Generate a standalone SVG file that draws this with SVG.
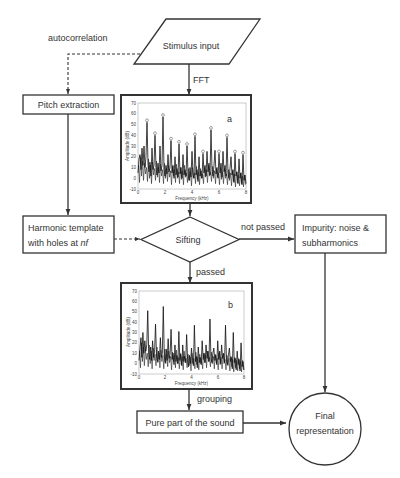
<svg xmlns="http://www.w3.org/2000/svg" width="400" height="478" viewBox="0 0 400 478">
<defs>
<style>
.box{fill:#fff;stroke:#333;stroke-width:1.3}
.plotbox{fill:#fff;stroke:#333;stroke-width:2}
.ln{fill:none;stroke:#333;stroke-width:1.3}
.dash{fill:none;stroke:#333;stroke-width:1.1;stroke-dasharray:3 2}
.t{font-family:"Liberation Sans",Arial,sans-serif;font-size:9px;fill:#333}
.tc{text-anchor:middle}
.ax{fill:#fff;stroke:#999;stroke-width:0.5}
.tk{font-family:"Liberation Sans",Arial,sans-serif;font-size:4.5px;fill:#444}
.sig{fill:none;stroke:#111;stroke-width:0.8;vector-effect:non-scaling-stroke}
.nz{fill:none;stroke:#222;stroke-width:0.6;vector-effect:non-scaling-stroke}
.pk{fill:none;stroke:#444;stroke-width:0.5}
</style>
<marker id="arr" viewBox="0 0 10 10" refX="10" refY="5" markerWidth="5" markerHeight="5" orient="auto">
<path d="M0,1 L10,5 L0,9 z" fill="#333"/>
</marker>
<polyline id="noise" class="nz" points="0.5,12 1.5,-4 2.5,20 3.5,2 4.5,16 5.5,-2 6.5,14 7.5,4 8.5,10 9.5,-3 10.5,18 11.5,0 12.5,12 13.5,-5 14.5,15 15.5,3 16.5,9 17.5,-2 18.5,16 19.5,1 20.5,10 21.5,-4 22.5,13 23.5,2 24.5,8 25.5,-5 26.5,14 27.5,0 28.5,9 29.5,-3 30.5,12 31.5,1 32.5,7 33.5,-6 34.5,11 35.5,2 36.5,8 37.5,-4 38.5,13 39.5,0 40.5,6 41.5,-5 42.5,10 43.5,-1 44.5,7 45.5,-6 46.5,12 47.5,1 48.5,5 49.5,-4 50.5,9 51.5,-2 52.5,6 53.5,-7 54.5,10 55.5,0 56.5,5 57.5,-5 58.5,11 59.5,-1 60.5,6 61.5,-6 62.5,9 63.5,0 64.5,4 65.5,-5 66.5,10 67.5,1 68.5,8 69.5,-4 70.5,12 71.5,2 72.5,6 73.5,-3 74.5,11 75.5,0 76.5,7 77.5,-5 78.5,9 79.5,1 80.5,5 81.5,-6 82.5,10 83.5,-1 84.5,6 85.5,-5 86.5,9 87.5,0 88.5,4 89.5,-6 90.5,8 91.5,-2 92.5,5 93.5,-7 94.5,7 95.5,-3 96.5,4 97.5,-8 98.5,6 99.5,-4 100.5,3 101.5,-7 102.5,5 103.5,-5 104.5,2 105.5,-8 106.5,3 107.5,-6"/>
</defs>
<rect width="400" height="478" fill="#fff"/>

<g id="connectors">
<path class="dash" d="M140,54 H68 V94" marker-end="url(#arr)"/>
<path class="ln" d="M189,64 V95" marker-end="url(#arr)"/>
<path class="ln" d="M68,114 V215" marker-end="url(#arr)"/>
<path class="ln" d="M190,203 V216" marker-end="url(#arr)"/>
<path class="dash" d="M114,239 H140" marker-end="url(#arr)"/>
<path class="ln" d="M239,239 H294" marker-end="url(#arr)"/>
<path class="ln" d="M190,262 V283" marker-end="url(#arr)"/>
<path class="ln" d="M325,253 V392" marker-end="url(#arr)"/>
<path class="ln" d="M189,389 V410" marker-end="url(#arr)"/>
<path class="ln" d="M243,423 H286" marker-end="url(#arr)"/>
<text class="t" x="48" y="41">autocorrelation</text>
<text class="t" x="193" y="83">FFT</text>
<text class="t" x="241" y="230">not passed</text>
<text class="t" x="196" y="275">passed</text>
<text class="t" x="197" y="402">grouping</text>
</g>

<g id="stimulus">
<polygon class="box" points="166,19 260,19 229,64 134,64"/>
<text class="t tc" x="191" y="49">Stimulus input</text>
</g>

<g id="pitch">
<rect class="box" x="23" y="95" width="91" height="19"/>
<text class="t tc" x="68.5" y="108">Pitch extraction</text>
</g>

<g id="harmonic">
<rect class="box" x="23" y="216" width="91" height="37"/>
<text class="t" x="28" y="231">Harmonic template</text>
<text class="t" x="28" y="246">with holes at <tspan font-style="italic">nf</tspan></text>
</g>

<g id="plotA">
<rect class="plotbox" x="121" y="95" width="130" height="108"/>
<rect class="ax" x="138" y="103" width="108" height="86"/>
<g class="tk" text-anchor="end">
<text x="136" y="104.5">70</text><text x="136" y="115.2">60</text><text x="136" y="126">50</text><text x="136" y="136.7">40</text><text x="136" y="147.5">30</text><text x="136" y="158.2">20</text><text x="136" y="169">10</text><text x="136" y="179.7">0</text><text x="136" y="190.5">-10</text>
</g>
<g class="tk" text-anchor="middle">
<text x="138" y="194">0</text><text x="165" y="194">2</text><text x="192" y="194">4</text><text x="219" y="194">6</text><text x="246" y="194">8</text>
<text x="192" y="200">Frequency (kHz)</text>
<text transform="translate(129,146) rotate(-90)">Amplitude (dB)</text>
</g>
<g transform="translate(138,178.25) scale(1,-1.075)">
<use href="#noise"/>
<polyline class="sig" points="0,5 1,18 2,22 3,8 4,28 5,12 6,30 7,10 8,20 9,52 10,14 11,6 12,15 13,2 14,28 15,8 16,12 17,40 18,10 19,3 20,14 21,5 22,30 23,7 24,12 25,57 26,8 27,2 28,12 29,4 30,22 31,6 32,10 33,35 34,5 35,12 36,0 37,20 38,3 39,9 40,1 41,32 42,4 43,10 44,0 45,22 46,3 47,8 48,2 49,30 50,5 51,-2 52,10 53,1 54,25 55,4 56,0 57,39 58,3 59,8 60,-3 61,20 62,2 63,7 64,0 65,23 66,5 67,12 68,2 69,25 70,6 71,14 72,3 73,45 74,8 75,2 76,12 77,26 78,4 79,10 80,0 81,23 82,5 83,14 84,1 85,25 86,6 87,12 88,2 89,38 90,5 91,0 92,9 93,20 94,3 95,8 96,-4 97,23 98,2 99,6 100,-5 101,18 102,0 103,5 104,-6 105,22 106,-2 107,3 108,-5"/>
</g>
<g class="pk">
<circle cx="147" cy="120.3" r="1.4"/><circle cx="155" cy="133.2" r="1.4"/><circle cx="163" cy="115" r="1.4"/><circle cx="171" cy="138.6" r="1.4"/><circle cx="179" cy="141.8" r="1.4"/><circle cx="187" cy="144" r="1.4"/><circle cx="195" cy="134.3" r="1.4"/><circle cx="203" cy="151.5" r="1.4"/><circle cx="211" cy="127.9" r="1.4"/><circle cx="219" cy="151.5" r="1.4"/><circle cx="227" cy="135.4" r="1.4"/><circle cx="235" cy="151.5" r="1.4"/><circle cx="243" cy="152.6" r="1.4"/>
</g>
<text class="t" x="227" y="122">a</text>
</g>

<g id="sifting">
<polygon class="box" points="190,217 239,239.5 190,262 141,239.5"/>
<text class="t tc" x="188" y="243">Sifting</text>
</g>

<g id="impurity">
<rect class="box" x="295" y="215" width="91" height="38"/>
<text class="t" x="302" y="231">Impurity: noise &amp;</text>
<text class="t" x="302" y="246">subharmonics</text>
</g>

<g id="plotB">
<rect class="plotbox" x="121" y="283" width="131" height="106"/>
<rect class="ax" x="139" y="291" width="105" height="83"/>
<g class="tk" text-anchor="end">
<text x="137" y="292.5">70</text><text x="137" y="302.9">60</text><text x="137" y="313.3">50</text><text x="137" y="323.6">40</text><text x="137" y="334">30</text><text x="137" y="344.4">20</text><text x="137" y="354.8">10</text><text x="137" y="365.1">0</text><text x="137" y="375.5">-10</text>
</g>
<g class="tk" text-anchor="middle">
<text x="139" y="379">0</text><text x="165" y="379">2</text><text x="191.5" y="379">4</text><text x="218" y="379">6</text><text x="244" y="379">8</text>
<text x="191.5" y="385">Frequency (kHz)</text>
<text transform="translate(130,332) rotate(-90)">Amplitude (dB)</text>
</g>
<g transform="translate(139,363.6) scale(0.972,-1.0375)">
<use href="#noise"/>
<polyline class="sig" points="0,3 1,15 2,25 3,6 4,30 5,10 6,22 7,12 8,18 9,51 10,10 11,4 12,16 13,3 14,22 15,6 16,11 17,38 18,8 19,2 20,12 21,4 22,25 23,6 24,10 25,55 26,7 27,1 28,14 29,3 30,24 31,5 32,9 33,33 34,4 35,10 36,-1 37,18 38,2 39,8 40,0 41,31 42,3 43,9 44,-2 45,18 46,2 47,7 48,1 49,28 50,4 51,-3 52,8 53,0 54,15 55,3 56,-2 57,37 58,2 59,7 60,-4 61,16 62,1 63,6 64,-1 65,22 66,4 67,10 68,1 69,18 70,5 71,12 72,2 73,43 74,6 75,1 76,10 77,15 78,3 79,8 80,-1 81,22 82,4 83,12 84,0 85,18 86,5 87,10 88,1 89,37 90,4 91,-1 92,8 93,15 94,2 95,6 96,-5 97,30 98,1 99,5 100,-6 101,12 102,-1 103,4 104,-7 105,20 106,-3 107,2 108,-6"/>
</g>
<text class="t" x="228" y="308">b</text>
</g>

<g id="pure">
<rect class="box" x="137" y="411" width="106" height="22"/>
<text class="t tc" x="190" y="425.5">Pure part of the sound</text>
</g>

<g id="final">
<circle class="box" cx="325" cy="429" r="36"/>
<text class="t tc" x="325" y="419">Final</text>
<text class="t tc" x="325" y="434">representation</text>
</g>
</svg>
